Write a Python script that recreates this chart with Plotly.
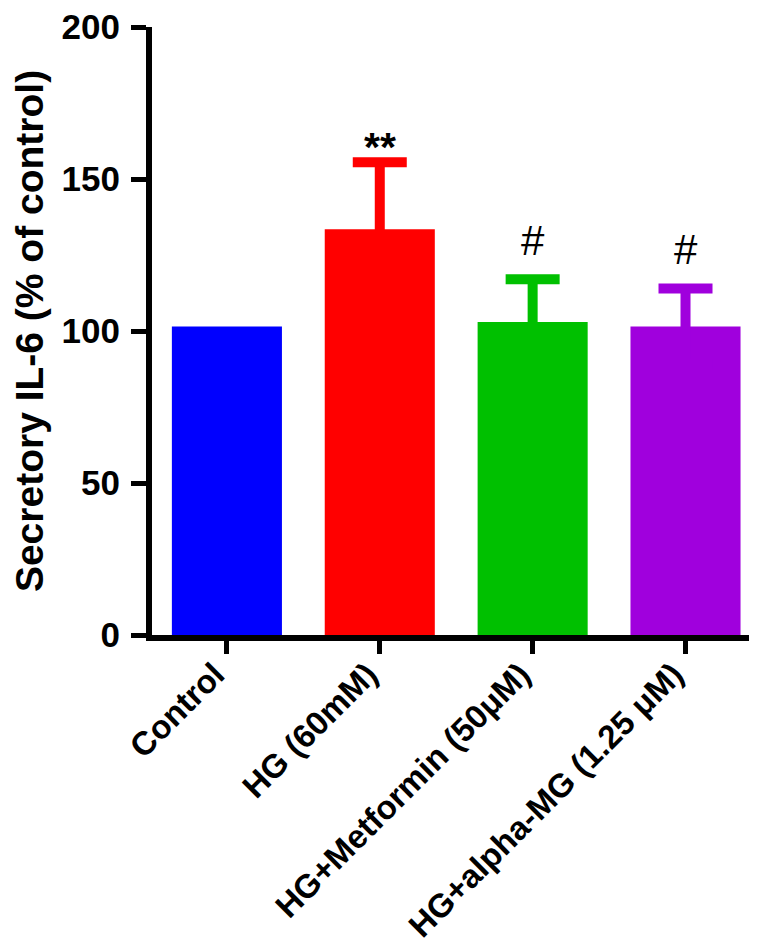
import plotly.graph_objects as go

categories = ["Control", "HG (60mM)", "HG+Metformin (50μM)", "HG+alpha-MG (1.25 μM)"]
means = [101.5, 133.5, 103, 101.5]
sd_upper = [0, 22, 14, 12.5]
sig_labels = ["", "**", "#", "#"]
colors = ["#0000FF", "#FF0000", "#00C000", "#A000DD"]
y_ticks = [0, 50, 100, 150, 200]

FONT = "Liberation Sans, Arial, sans-serif"

fig = go.Figure()
for i, c in enumerate(categories):
    fig.add_trace(go.Bar(
        x=[c], y=[means[i]],
        marker=dict(color=colors[i], line=dict(width=0)),
        error_y=dict(type="data", symmetric=True, array=[sd_upper[i]],
                     visible=sd_upper[i] > 0, color=colors[i], thickness=10, width=27),
        showlegend=False,
    ))

for i, c in enumerate(categories):
    if sig_labels[i] == "**":
        fig.add_annotation(x=c, y=means[i] + sd_upper[i], text=sig_labels[i],
                           showarrow=False, yanchor="bottom", yshift=-10,
                           font=dict(family=FONT, size=41, color="black", weight="bold"))
    elif sig_labels[i]:
        fig.add_annotation(x=c, y=means[i] + sd_upper[i], text=sig_labels[i],
                           showarrow=False, yanchor="bottom", yshift=13,
                           font=dict(family=FONT, size=42, color="black"))

fig.update_layout(
    width=757, height=947,
    margin=dict(l=144, r=0, t=19, b=320),
    plot_bgcolor="white", paper_bgcolor="white",
    bargap=0.28,
    font=dict(family=FONT, color="black"),
)
fig.update_xaxes(
    categoryorder="array", categoryarray=categories,
    range=[-0.49, 3.52],
    automargin=False,
    showline=True, linewidth=6, linecolor="black",
    ticks="outside", ticklen=13, tickwidth=5, tickcolor="black",
    tickangle=-45,
    ticklabelshift=-12,
    ticklabelstandoff=-12,
    tickfont=dict(family=FONT, size=33, color="black", weight="bold"),
    showgrid=False, zeroline=False,
)
fig.update_yaxes(
    range=[0, 200], tickvals=y_ticks,
    automargin="left",
    showline=True, linewidth=6, linecolor="black",
    ticks="outside", ticklen=15, tickwidth=5, tickcolor="black",
    ticklabeloverflow="allow",
    ticklabelstandoff=4,
    tickfont=dict(family=FONT, size=35, color="black", weight="bold"),
    title=dict(text="Secretory IL-6 (% of control)", standoff=10,
               font=dict(family=FONT, size=39, color="black", weight="bold")),
    showgrid=False, zeroline=False,
)

fig.write_html("out.html")
